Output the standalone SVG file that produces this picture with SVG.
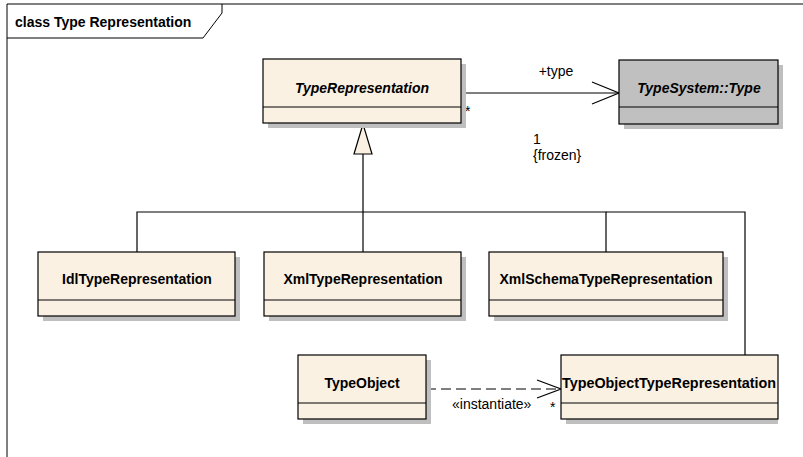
<svg xmlns="http://www.w3.org/2000/svg" width="803" height="457" viewBox="0 0 803 457">
<defs>
<style>
.box{fill:#fbf1e3;stroke:#000;stroke-width:1.2}
.gbox{fill:#c0c0c0;stroke:#000;stroke-width:1.2}
.shadow{fill:#bfbfbf}
.div{stroke:#000;stroke-width:1.2}
.name{font-family:"Liberation Sans",Arial,sans-serif;font-size:14px;font-weight:bold;fill:#000;text-anchor:middle}
.it{font-style:italic}
.lbl{font-family:"Liberation Sans",Arial,sans-serif;font-size:14px;fill:#000}
.conn{fill:none;stroke:#000;stroke-width:1.2}
.frame{fill:none;stroke:#000;stroke-width:1}
</style>
</defs>
<rect x="0" y="0" width="803" height="457" fill="#fff"/>
<g id="frame">
<path class="frame" d="M7,457 V4 H803"/>
<path class="frame" d="M7,38 H203 L222,13 V4"/>
<text x="15" y="27" class="lbl" style="font-weight:bold">class Type Representation</text>
</g>
<g id="connectors">
<path class="conn" d="M461,93 H619"/>
<path class="conn" d="M592,82 L619,93 L592,104"/>
<text x="556" y="76" class="lbl" text-anchor="middle">+type</text>
<text x="465" y="116" class="lbl">*</text>
<text x="533" y="144" class="lbl">1</text>
<text x="533" y="160" class="lbl">{frozen}</text>
<path class="conn" d="M137,252 V212 H363 V154"/>
<path class="conn" d="M363,252 V212"/>
<path class="conn" d="M606,252 V212 H363"/>
<path class="conn" d="M745,355 V212 H606"/>
<path d="M363,124 L354,154 H372 Z" fill="#fbf1e3" stroke="#000" stroke-width="1.2"/>
<path class="conn" d="M426,389 H561" stroke-dasharray="10,5" stroke-width="1.4"/>
<path class="conn" d="M537,380 L561,389 L537,398" stroke-width="1.4"/>
<text x="452" y="409" class="lbl">«instantiate»</text>
<text x="550" y="412" class="lbl">*</text>
</g>
<g id="TypeRepresentation">
<rect class="shadow" x="268" y="64" width="198" height="64"/>
<rect class="box" x="263" y="59" width="198" height="64"/>
<line class="div" x1="263" y1="107" x2="461" y2="107"/>
<text class="name it" x="362" y="93">TypeRepresentation</text>
</g>
<g id="TypeSystemType">
<rect class="shadow" x="624" y="65" width="159" height="64" fill="#a8a8a8"/>
<rect class="gbox" x="619" y="60" width="159" height="64"/>
<line class="div" x1="619" y1="107" x2="778" y2="107"/>
<text class="name it" x="699" y="93">TypeSystem::Type</text>
</g>
<g id="IdlTypeRepresentation">
<rect class="shadow" x="43" y="257" width="197" height="64"/>
<rect class="box" x="38" y="252" width="197" height="64"/>
<line class="div" x1="38" y1="300" x2="235" y2="300"/>
<text class="name" x="137" y="284">IdlTypeRepresentation</text>
</g>
<g id="XmlTypeRepresentation">
<rect class="shadow" x="269" y="257" width="197" height="64"/>
<rect class="box" x="264" y="252" width="197" height="64"/>
<line class="div" x1="264" y1="300" x2="461" y2="300"/>
<text class="name" x="363" y="284">XmlTypeRepresentation</text>
</g>
<g id="XmlSchemaTypeRepresentation">
<rect class="shadow" x="494" y="257" width="234" height="64"/>
<rect class="box" x="489" y="252" width="234" height="64"/>
<line class="div" x1="489" y1="300" x2="723" y2="300"/>
<text class="name" x="606" y="284">XmlSchemaTypeRepresentation</text>
</g>
<g id="TypeObject">
<rect class="shadow" x="303" y="360" width="128" height="64"/>
<rect class="box" x="298" y="355" width="128" height="64"/>
<line class="div" x1="298" y1="403" x2="426" y2="403"/>
<text class="name" x="362" y="388">TypeObject</text>
</g>
<g id="TypeObjectTypeRepresentation">
<rect class="shadow" x="566" y="360" width="212" height="64"/>
<rect class="box" x="561" y="355" width="217" height="64"/>
<line class="div" x1="561" y1="403" x2="778" y2="403"/>
<text class="name" x="669" y="388" textLength="214" lengthAdjust="spacingAndGlyphs">TypeObjectTypeRepresentation</text>
</g>
</svg>
